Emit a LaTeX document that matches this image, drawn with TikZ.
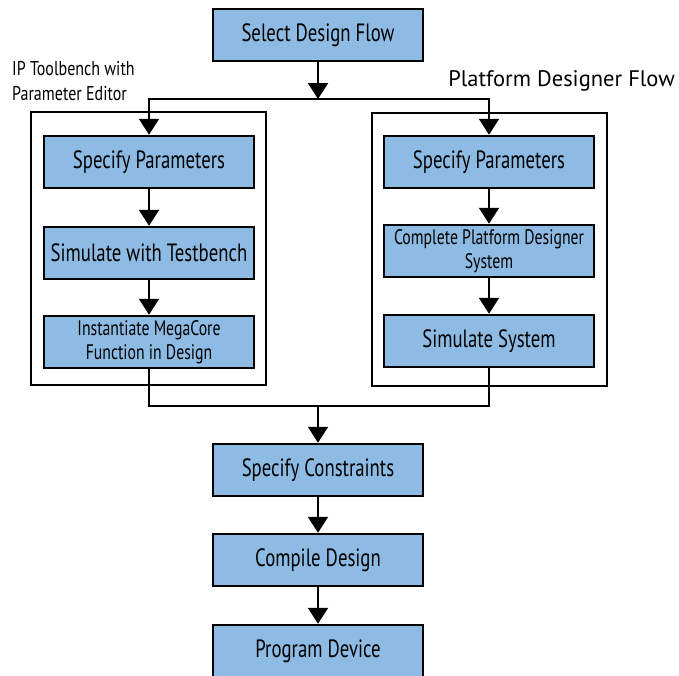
\documentclass[tikz,border=0pt]{standalone}
\usepackage{fontspec}
\setmainfont{PT Sans}
\newfontfamily\condfont[FakeStretch=0.75]{PT Sans}
\newfontfamily\labelfont[FakeStretch=0.8]{PT Sans}
\usetikzlibrary{arrows.meta}
\definecolor{flowblue}{RGB}{141,187,228}

\begin{document}
\begin{tikzpicture}[x=1pt, y=-1pt,
  >={Triangle[width=20pt,length=16pt]},
  stepbox/.style={draw, line width=2.5pt, fill=flowblue, minimum width=210pt,
    minimum height=52pt, inner sep=0pt, align=center,
    font=\condfont\fontsize{25}{28}\selectfont},
  smallstep/.style={stepbox, font=\condfont\fontsize{21}{24}\selectfont},
  group/.style={draw, line width=2pt, minimum width=235pt, minimum height=273pt, inner sep=0pt},
  flowline/.style={line width=2pt}]
  \useasboundingbox (0,0) rectangle (679,675);

  % the two flows
  \node[group] (ipbox) at (148.5,248.5) {};
  \node[group] (pdbox) at (489.5,249) {};

  \node[stepbox] (flow) at (318,35) {Select Design Flow};

  \node[stepbox] (ipspec) at (149,162) {Specify Parameters};
  \node[stepbox] (iptest) at (149,253) {Simulate with Testbench};
  \node[smallstep] (ipinst) at (149,342) {Instantiate MegaCore\\Function in Design};

  \node[stepbox] (pdspec) at (489,162) {Specify Parameters};
  \node[smallstep] (pdsys) at (489,251) {Complete Platform Designer\\System};
  \node[stepbox] (pdsim) at (489,341) {Simulate System};

  \node[stepbox] (constr) at (318,470) {Specify Constraints};
  \node[stepbox] (compile) at (318,560) {Compile Design};
  \node[stepbox] (program) at (318,651) {Program Device};

  \node[anchor=north west, inner sep=0pt, align=left,
    font=\labelfont\fontsize{20}{25}\selectfont] (iplabel) at (12,61)
    {IP Toolbench with\\Parameter Editor};
  \node[anchor=base east, inner sep=0pt, font=\fontsize{22.5}{26}\selectfont]
    (pdlabel) at (675,86) {Platform Designer Flow};

  \coordinate (split) at (318,99);
  \coordinate (merge) at (318,406);

  \draw[flowline,->] (flow) -- (split);
  \draw[flowline,->] (split) -| (ipspec.north);
  \draw[flowline,->] (split) -| (pdspec.north);

  \path[flowline,->]
  (ipspec) edge (iptest)
  (iptest) edge (ipinst)
  (pdspec) edge (pdsys)
  (pdsys) edge (pdsim);

  \draw[flowline] (ipinst.south) |- (merge);
  \draw[flowline] (pdsim.south) |- (merge);
  \draw[flowline,->] (merge) -- (constr);

  \path[flowline,->]
  (constr) edge (compile)
  (compile) edge (program);
\end{tikzpicture}
\end{document}
